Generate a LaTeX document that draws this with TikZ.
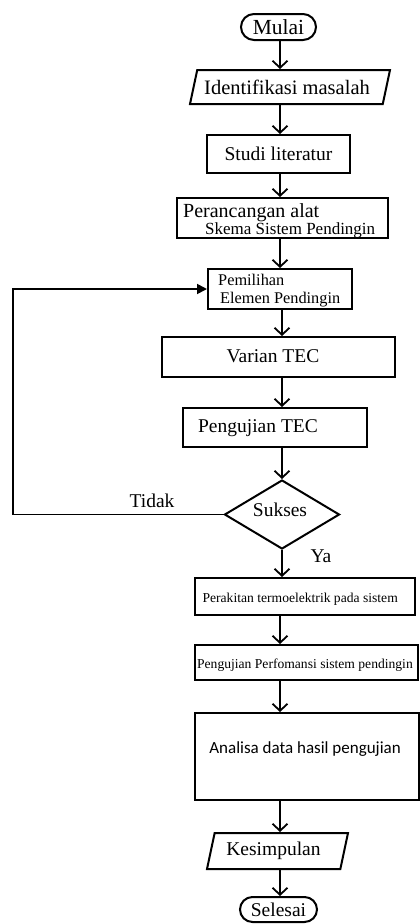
\documentclass[tikz,border=0pt]{standalone}
\usepackage{fontspec}
\setmainfont{Liberation Serif}
\newfontfamily\calfont{Carlito}
\usetikzlibrary{shapes.geometric,shapes.misc,arrows.meta}
\newcommand{\fs}[1]{\fontsize{#1}{#1}\selectfont}
\tikzset{
  box/.style={draw, line width=2pt, rectangle, inner sep=0pt, font=\fs{19.5}},
  term/.style={draw, line width=2pt, rounded rectangle, inner sep=0pt, font=\fs{19.5}},
  para/.style={draw, line width=2pt, trapezium, trapezium left angle=78,
    trapezium right angle=102, trapezium stretches body, inner sep=0pt},
  dec/.style={draw, line width=2pt, diamond, inner sep=0pt},
  txt/.style={inner sep=0pt, font=\fs{19.5}},
  arr/.style={line width=1.8pt, -{Straight Barb[length=7pt,width=15pt]}},
  fbarr/.style={line width=1.8pt, line join=miter, -{Triangle[length=10pt,width=10pt]}},
}
\begin{document}
\begin{tikzpicture}[x=1pt,y=-1pt]
\fill[white] (0,0) rectangle (420,924);
\useasboundingbox (0,0) rectangle (420,924);

\node[term, minimum width=75pt, minimum height=26pt, font=\fs{21.5}] (mulai) at (278.5,27) {Mulai};
\node[para, minimum width=200pt] (ident) at (290,87) {\rule{0pt}{34pt}};
\node[txt, font=\fs{20.5}] (identt) at (287,87) {Identifikasi masalah};
\node[box, minimum width=143pt, minimum height=38pt] (studi) at (278.5,154) {Studi literatur};

\node[box, minimum width=211pt, minimum height=40pt] (peranc) at (282.5,218) {};
\node[txt, anchor=base west, font=\fs{20}] (peranc1) at (183,217) {Perancangan alat};
\node[txt, anchor=base west, font=\fs{17}] (peranc2) at (205,234) {Skema Sistem Pendingin};

\node[box, minimum width=144pt, minimum height=40pt] (pemil) at (280,289) {};
\node[txt, anchor=base west, font=\fs{16.3}] (pemil1) at (218,285) {Pemilihan};
\node[txt, anchor=base west, font=\fs{16.3}] (pemil2) at (220,303) {Elemen Pendingin};

\node[box, minimum width=233pt, minimum height=40pt] (varian) at (278.5,357) {};
\node[txt, anchor=base] (variant) at (273,362) {Varian TEC};

\node[box, minimum width=184pt, minimum height=39pt] (pengtec) at (275,427.5) {};
\node[txt, anchor=base] (pengtect) at (258,432) {Pengujian TEC};

\node[dec, minimum width=115pt, minimum height=69pt] (sukses) at (282,514.5) {};
\node[txt, anchor=base] (suksest) at (280,516) {Sukses};
\node[txt, anchor=base] (tidak) at (152,507) {Tidak};
\node[txt, anchor=base] (ya) at (321,562) {Ya};

\node[box, minimum width=220pt, minimum height=37pt] (perak) at (305,596.5) {};
\node[txt, anchor=base east, font=\fs{13.6}] (perakt) at (398,602) {Perakitan termoelektrik pada sistem};

\node[box, minimum width=223pt, minimum height=35pt] (pengperf) at (306.5,662.5) {};
\node[txt, anchor=base east, font=\fs{13.6}] (pengperft) at (413,668) {Pengujian Perfomansi sistem pendingin};

\node[box, minimum width=224pt, minimum height=87pt] (analisa) at (307,756.5) {};
\node[txt, anchor=base east, font=\calfont\fs{17}] (analisat) at (401,753) {Analisa data hasil pengujian};

\node[para, minimum width=141pt] (kesimp) at (277.5,851) {\rule{0pt}{36pt}};
\node[txt] (kesimpt) at (273.5,851) {Kesimpulan};
\node[term, minimum width=77pt, minimum height=25pt] (selesai) at (278.5,909.5) {Selesai};

\coordinate (ax) at (280,0);
\coordinate (bx) at (282,0);
\draw[arr] (ax |- mulai.south) -- (ax |- ident.north);
\draw[arr] (ax |- ident.south) -- (ax |- studi.north);
\draw[arr] (ax |- studi.south) -- (ax |- peranc.north);
\draw[arr] (ax |- peranc.south) -- (ax |- pemil.north);
\draw[arr] (bx |- pemil.south) -- (bx |- varian.north);
\draw[arr] (bx |- varian.south) -- (bx |- pengtec.north);
\draw[arr] (bx |- pengtec.south) -- (bx |- sukses.north);
\draw[arr] (bx |- sukses.south) -- (bx |- perak.north);
\draw[arr] (ax |- perak.south) -- (ax |- pengperf.north);
\draw[arr] (ax |- pengperf.south) -- (ax |- analisa.north);
\draw[arr] (ax |- analisa.south) -- (ax |- kesimp.north);
\draw[arr] (ax |- kesimp.south) -- (ax |- selesai.north);

\coordinate (fb1) at (13,514.5);
\coordinate (fb2) at (13,289);
\draw[fbarr] (sukses.west) -- (fb1) -- (fb2) -- (pemil.west);
\end{tikzpicture}
\end{document}
